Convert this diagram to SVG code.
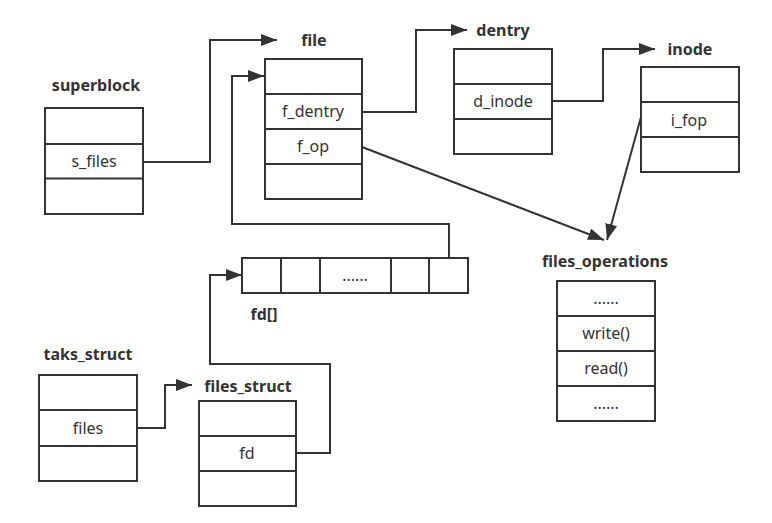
<svg xmlns="http://www.w3.org/2000/svg" width="772" height="523" viewBox="0 0 772 523">
<style>
.b{fill:#fff;stroke:#333;stroke-width:2}
.l{stroke:#333;stroke-width:2;fill:none}
.c{stroke:#333;stroke-width:2;fill:none}
.t{font-family:"Noto Sans","Open Sans",sans-serif;font-size:16px;fill:#333;text-anchor:middle}
.h{font-family:"Noto Sans","Open Sans",sans-serif;font-size:16px;font-weight:bold;fill:#333;text-anchor:middle}
</style>
<defs>
<marker id="a" viewBox="0 0 16 12" refX="16" refY="6" markerWidth="16" markerHeight="12" markerUnits="userSpaceOnUse" orient="auto">
<path d="M0,0 L16,6 L0,12 Z" fill="#333"/>
</marker>
</defs>
<rect width="772" height="523" fill="#fff"/>
<g id="connectors">
<path class="c" d="M143,162 H210 V40 H277" marker-end="url(#a)"/>
<path class="c" d="M362,112 H416 V30 H467" marker-end="url(#a)"/>
<path class="c" d="M552,101 H603 V49 H655" marker-end="url(#a)"/>
<path class="c" d="M449,258 V224 H232 V76 H264" marker-end="url(#a)"/>
<path class="c" d="M362,147 L604,240" marker-end="url(#a)"/>
<path class="c" d="M641,117 L607,240" marker-end="url(#a)"/>
<path class="c" d="M296,453 H330 V364 H210 V275 H242" marker-end="url(#a)"/>
<path class="c" d="M137,428 H165 V385 H192" marker-end="url(#a)"/>
</g>
<g id="superblock">
<text class="h" x="96" y="91">superblock</text>
<rect class="b" x="45" y="108" width="98" height="106"/>
<line class="l" x1="45" y1="144" x2="143" y2="144"/>
<line class="l" x1="45" y1="178.5" x2="143" y2="178.5" stroke-width="3"/>
<text class="t" x="94" y="167">s_files</text>
</g>
<g id="file">
<text class="h" x="314" y="46">file</text>
<rect class="b" x="265" y="59" width="97" height="140"/>
<line class="l" x1="265" y1="94" x2="362" y2="94"/>
<line class="l" x1="265" y1="129" x2="362" y2="129"/>
<line class="l" x1="265" y1="164" x2="362" y2="164"/>
<text class="t" x="313" y="117">f_dentry</text>
<text class="t" x="313" y="152">f_op</text>
</g>
<g id="dentry">
<text class="h" x="503" y="36">dentry</text>
<rect class="b" x="454" y="49" width="98" height="105"/>
<line class="l" x1="454" y1="84" x2="552" y2="84"/>
<line class="l" x1="454" y1="119" x2="552" y2="119"/>
<text class="t" x="503" y="107">d_inode</text>
</g>
<g id="inode">
<text class="h" x="690" y="55">inode</text>
<rect class="b" x="641" y="67" width="98" height="105"/>
<line class="l" x1="641" y1="102" x2="739" y2="102" stroke-width="3"/>
<line class="l" x1="641" y1="137" x2="739" y2="137"/>
<text class="t" x="689" y="126">i_fop</text>
</g>
<g id="files_operations">
<text class="h" x="605" y="267">files_operations</text>
<rect class="b" x="557" y="281" width="98" height="140"/>
<line class="l" x1="557" y1="316" x2="655" y2="316"/>
<line class="l" x1="557" y1="351" x2="655" y2="351"/>
<line class="l" x1="557" y1="386" x2="655" y2="386"/>
<text class="t" x="606" y="304">......</text>
<text class="t" x="606" y="339">write()</text>
<text class="t" x="606" y="374">read()</text>
<text class="t" x="606" y="409">......</text>
</g>
<g id="fd_array">
<rect class="b" x="242" y="258" width="226" height="35"/>
<line class="l" x1="281" y1="258" x2="281" y2="293"/>
<line class="l" x1="320" y1="258" x2="320" y2="293"/>
<line class="l" x1="391" y1="258" x2="391" y2="293"/>
<line class="l" x1="429" y1="258" x2="429" y2="293"/>
<text class="t" x="355" y="281">......</text>
<text class="h" x="264" y="320">fd[]</text>
</g>
<g id="taks_struct">
<text class="h" x="88" y="360">taks_struct</text>
<rect class="b" x="39" y="375" width="98" height="106"/>
<line class="l" x1="39" y1="410" x2="137" y2="410" stroke-width="3"/>
<line class="l" x1="39" y1="446" x2="137" y2="446"/>
<text class="t" x="88" y="434">files</text>
</g>
<g id="files_struct">
<text class="h" x="248" y="392">files_struct</text>
<rect class="b" x="199" y="401" width="97" height="105"/>
<line class="l" x1="199" y1="436" x2="296" y2="436"/>
<line class="l" x1="199" y1="471" x2="296" y2="471"/>
<text class="t" x="247" y="459">fd</text>
</g>
</svg>
